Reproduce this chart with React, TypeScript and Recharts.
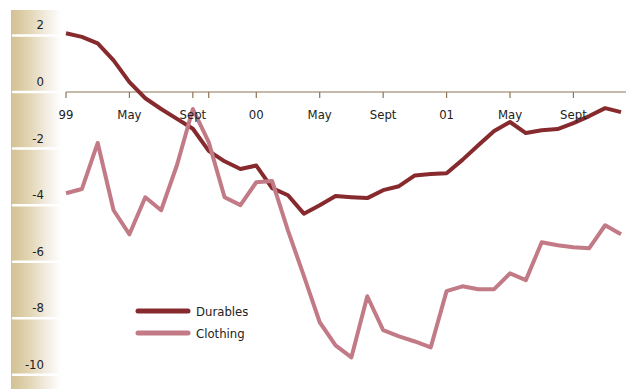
import React from 'react';
import { LineChart, Line, XAxis, YAxis, ReferenceLine, ReferenceDot, Legend } from 'recharts';

const FONT = '"Liberation Sans Narrow", "DejaVu Sans Condensed", "Open Sans", sans-serif';

const MONTH_NAMES = ['Jan', 'Feb', 'Mar', 'Apr', 'May', 'Jun', 'Jul', 'Aug', 'Sep', 'Oct', 'Nov', 'Dec'];
const YEARS = ['99', '00', '01'];
const MONTHS = YEARS.flatMap((y) => MONTH_NAMES.map((m) => `${m} ${y}`));

// % change
const DURABLES = [
  2.08, 1.95, 1.72, 1.12, 0.35, -0.22, -0.6, -0.95, -1.3, -2.08, -2.45, -2.72,
  -2.6, -3.4, -3.65, -4.3, -4.0, -3.68, -3.72, -3.75, -3.47, -3.33, -2.95, -2.9,
  -2.87, -2.4, -1.88, -1.38, -1.06, -1.45, -1.35, -1.31, -1.1, -0.85, -0.57, -0.71
];
const CLOTHING = [
  -3.58, -3.43, -1.8, -4.18, -5.03, -3.72, -4.18, -2.58, -0.6, -1.77, -3.72, -4.0,
  -3.19, -3.15, -4.9, -6.5, -8.14, -8.96, -9.38, -7.22, -8.42, -8.64, -8.82, -9.03,
  -7.04, -6.87, -6.97, -6.97, -6.41, -6.65, -5.31, -5.42, -5.49, -5.52, -4.71, -5.03
];

const Y_TICKS = [2, 0, -2, -4, -6, -8, -10];
const X_TICKS = ['Jan 99', 'May 99', 'Sep 99', 'Oct 99', 'Jan 00', 'May 00', 'Sep 00', 'Jan 01', 'May 01', 'Sep 01'];
const X_TICK_LABELS = ['99', 'May', 'Sept', '', '00', 'May', 'Sept', '01', 'May', 'Sept'];

const SERIES = [
  { key: 'durables', name: 'Durables', color: '#862a2e' },
  { key: 'clothing', name: 'Clothing', color: '#c27a86' }
];

const AXIS_COLOR = '#8c7454';
const FS = 13;

const data = MONTHS.map((m, i) => ({ month: m, durables: DURABLES[i], clothing: CLOTHING[i] }));

function YTick({ x, y, payload }: any) {
  return (
    <g>
      <line x1={x - 53} x2={x - 8} y1={y} y2={y} stroke="#ffffff" strokeWidth={2.5} strokeLinecap="round" />
      <text x={x - 22} y={y - 6} textAnchor="end" fontSize={FS} fill="#222" fontFamily={FONT}>
        {payload.value}
      </text>
    </g>
  );
}

// tick mark hanging under the zero line, plus its label
function XTick({ cx, cy, label }: any) {
  return (
    <g>
      <line x1={cx} x2={cx} y1={cy} y2={cy + 6} stroke={AXIS_COLOR} strokeWidth={1.2} />
      {label ? (
        <text x={cx} y={cy + 27} textAnchor="middle" fontSize={FS} fill="#222" fontFamily={FONT}>
          {label}
        </text>
      ) : null}
    </g>
  );
}

function LegendBox() {
  return (
    <div style={{ fontFamily: FONT, fontSize: FS, color: '#222' }}>
      {SERIES.map((s) => (
        <div key={s.key} style={{ display: 'flex', alignItems: 'center', height: 22 }}>
          <svg width={56} height={8} style={{ display: 'block' }}>
            <line x1={3} x2={53} y1={4} y2={4} stroke={s.color} strokeWidth={5} strokeLinecap="round" />
          </svg>
          <span style={{ marginLeft: 5 }}>{s.name}</span>
        </div>
      ))}
    </div>
  );
}

export default function App() {
  return (
    <div style={{ position: 'absolute', left: 0, top: 0, width: 626, height: 389, background: '#fff', fontFamily: FONT }}>
      <div
        style={{
          position: 'absolute',
          left: 11,
          top: 10,
          width: 50,
          height: 379,
          background: 'linear-gradient(to right, #d3c193 0%, #e1d4b2 35%, #f2ece0 70%, #ffffff 100%)'
        }}
      />
      <div style={{ position: 'absolute', left: 0, top: 0 }}>
        <LineChart width={626} height={389} data={data} margin={{ top: 10, right: 0, bottom: 0, left: 0 }}>
          <XAxis dataKey="month" hide padding={{ left: 0, right: 5 }} />
          <YAxis
            width={66}
            domain={[-10.5, 2.9]}
            ticks={Y_TICKS}
            interval={0}
            axisLine={false}
            tickLine={false}
            tickSize={0}
            tickMargin={0}
            tick={<YTick />}
          />
          <ReferenceLine y={0} stroke={AXIS_COLOR} strokeWidth={1.2} />
          {X_TICKS.map((m, i) => (
            <ReferenceDot key={m} x={m} y={0} r={0} shape={(p: any) => <XTick {...p} label={X_TICK_LABELS[i]} />} />
          ))}
          {SERIES.map((s) => (
            <Line
              key={s.key}
              type="linear"
              dataKey={s.key}
              name={s.name}
              stroke={s.color}
              strokeWidth={4}
              strokeLinejoin="round"
              dot={false}
              activeDot={false}
              isAnimationActive={false}
            />
          ))}
          <Legend
            layout="vertical"
            align="center"
            verticalAlign="middle"
            content={<LegendBox />}
            wrapperStyle={{ left: 135, top: 300, width: 'auto' }}
          />
        </LineChart>
      </div>
    </div>
  );
}
